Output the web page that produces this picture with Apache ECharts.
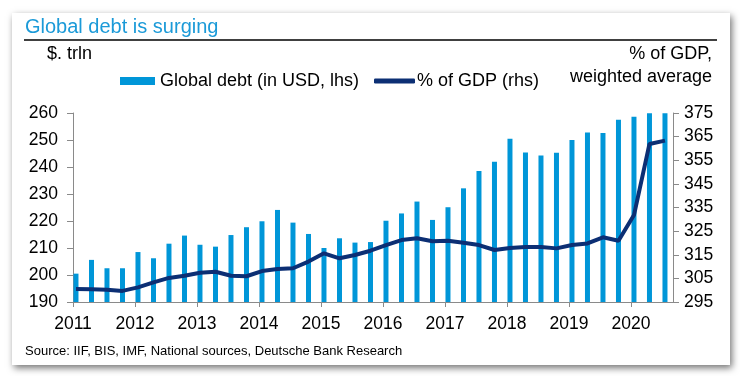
<!DOCTYPE html>
<html>
<head>
<meta charset="utf-8">
<script src="https://cdn.jsdelivr.net/npm/echarts@6/dist/echarts.min.js"></script>
<style>
  html, body { margin: 0; padding: 0; background: #fff; }
  #frame { position: absolute; left: 12px; top: 13px; width: 718px; height: 352px; background: #fff;
           box-shadow: 2px 3px 7px rgba(0,0,0,0.55); }
  #main { position: absolute; left: 0; top: 0; width: 740px; height: 376px; }
</style>
</head>
<body>
<div id="frame"></div>
<div id="main"></div>
<script>
// quarterly data, 2011Q1 .. 2020Q3
var quarters = [];
for (var y = 2011; y <= 2020; y++) {
    for (var q = 1; q <= 4; q++) {
        if (y === 2020 && q === 4) break;
        quarters.push(y + 'Q' + q);
    }
}
var debtUsd = [200.5, 205.6, 202.5, 202.5, 208.5, 206.2, 211.6, 214.6, 211.2, 210.5,
               214.8, 217.7, 219.9, 224.1, 219.4, 215.2, 210.0, 213.6, 212.0, 212.2,
               220.1, 222.8, 227.2, 220.4, 225.1, 232.1, 238.5, 241.9, 250.5, 245.4,
               244.3, 245.3, 250.0, 252.8, 252.6, 257.5, 258.6, 259.9, 259.9];
var debtGdp = [300.5, 300.4, 300.2, 299.7, 301.2, 303.3, 305.2, 306.1, 307.4, 307.8,
               306.1, 305.9, 308.1, 309.0, 309.3, 312.1, 315.6, 313.5, 314.9, 316.7,
               319.1, 321.2, 322.0, 320.7, 320.9, 320.1, 319.1, 317.0, 317.9, 318.3,
               318.3, 317.7, 319.1, 319.8, 322.4, 320.9, 331.8, 361.9, 363.3];

// quarter label -> position on the year axis (points sit half a month into the quarter)
function qPos(label) {
    return parseInt(label.slice(0, 4)) + (parseInt(label.slice(5)) - 1) / 4 + 0.048;
}

var dom = document.getElementById('main');
var myChart = echarts.init(dom);

var font = 'Liberation Sans, Arial, sans-serif';
var barColor = '#0096d8';
var lineColor = '#0c2f74';
var axisColor = '#8a8a8a';

var option = {
    backgroundColor: 'transparent',
    animation: false,
    textStyle: { fontFamily: font },
    graphic: [
        { type: 'text', left: 25, top: 17, style: { text: 'Global debt is surging', font: '20px ' + font, fill: '#1b9ad8' } },
        { type: 'line', shape: { x1: 24, y1: 40, x2: 717, y2: 40 }, style: { stroke: '#000', lineWidth: 1.5 } },
        { type: 'text', left: 47, top: 45, style: { text: '$. trln', font: '18px ' + font, fill: '#000' } },
        { type: 'text', right: 28, top: 45, style: { text: '% of GDP,', font: '18px ' + font, fill: '#000', align: 'right' } },
        { type: 'text', right: 28, top: 68, style: { text: 'weighted average', font: '18px ' + font, fill: '#000', align: 'right' } },
        { type: 'text', left: 25, top: 345, style: { text: 'Source: IIF, BIS, IMF, National sources, Deutsche Bank Research', font: '13px ' + font, fill: '#000' } }
    ],
    legend: [{
        data: [{ name: 'Global debt (in USD, lhs)', icon: 'rect' }],
        left: 115, top: 72, padding: [0, 5],
        itemWidth: 35, itemHeight: 8,
        textStyle: { fontSize: 18, color: '#000', fontFamily: font }
    }, {
        data: [{ name: '% of GDP (rhs)', icon: 'roundRect' }],
        left: 369, top: 72, padding: [0, 5],
        itemWidth: 41, itemHeight: 5,
        textStyle: { fontSize: 18, color: '#000', fontFamily: font, padding: [0, 0, 0, -3] }
    }],
    grid: { left: 73, right: 67, top: 113, bottom: 74 },
    xAxis: {
        type: 'value',
        min: 2011, max: 2011 + 600 / 62, interval: 1,
        splitLine: { show: false },
        axisLine: { lineStyle: { color: axisColor, width: 1 } },
        axisTick: { show: true, length: 5, lineStyle: { color: axisColor } },
        axisLabel: {
            color: '#000', fontSize: 17.5, fontFamily: font, margin: 13,
            showMaxLabel: false,
            formatter: function (v) { return Number.isInteger(v) ? String(v) : ''; }
        }
    },
    yAxis: [{
        type: 'value', min: 190, max: 260, interval: 10,
        splitLine: { show: false },
        axisLine: { show: true, lineStyle: { color: axisColor, width: 1 } },
        axisTick: { show: true, length: 6, lineStyle: { color: axisColor } },
        axisLabel: { color: '#000', fontSize: 17.5, fontFamily: font, margin: 15 }
    }, {
        type: 'value', min: 295, max: 375, interval: 10,
        splitLine: { show: false },
        axisLine: { show: true, lineStyle: { color: axisColor, width: 1 } },
        axisTick: { show: true, length: 6, lineStyle: { color: axisColor } },
        axisLabel: { color: '#000', fontSize: 17.5, fontFamily: font, margin: 11 }
    }],
    series: [{
        name: 'Global debt (in USD, lhs)',
        type: 'bar',
        yAxisIndex: 0,
        barWidth: 5,
        itemStyle: { color: barColor },
        data: quarters.map(function (q, i) { return [qPos(q), debtUsd[i]]; })
    }, {
        name: '% of GDP (rhs)',
        type: 'line',
        yAxisIndex: 1,
        showSymbol: false,
        lineStyle: { color: lineColor, width: 4 },
        itemStyle: { color: lineColor },
        data: quarters.map(function (q, i) { return [qPos(q), debtGdp[i]]; })
    }]
};

if (option && typeof option === 'object') {
    myChart.setOption(option, true);
}

window.addEventListener('resize', function () {
    myChart.resize();
});
</script>
</body>
</html>
